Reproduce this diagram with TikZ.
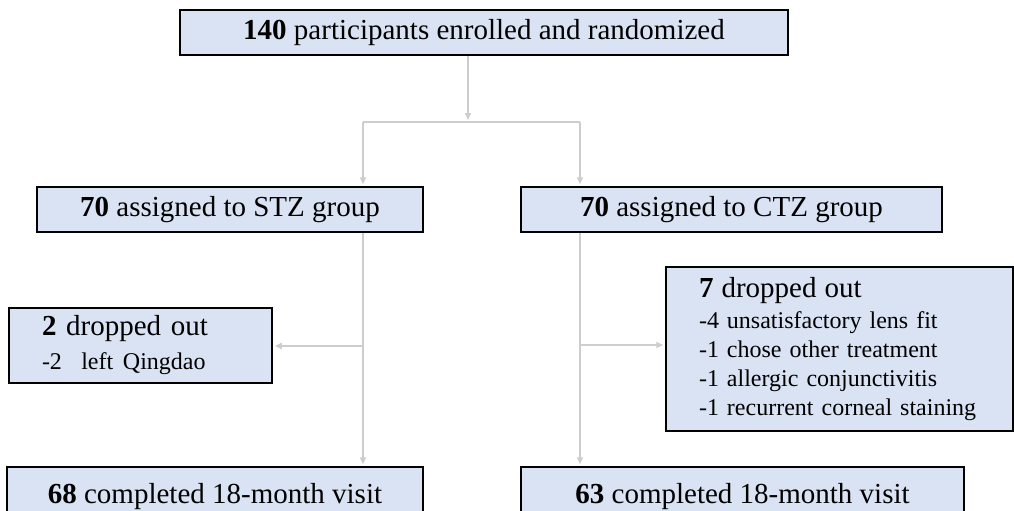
\documentclass[tikz,border=0pt]{standalone}
\usepackage{fontspec}
\setmainfont{Liberation Serif}
\usepackage{xcolor}
\usepackage{tikz}
\usetikzlibrary{positioning,arrows.meta}

\definecolor{boxblue}{HTML}{DAE3F3}
\definecolor{linegray}{HTML}{CDCDCD}

\tikzset{
  box/.style={draw=black, line width=1.5pt, fill=boxblue, inner sep=0pt,
    minimum height=45pt, font=\fontsize{29}{34}\selectfont},
  listbox/.style={box, align=left, inner xsep=33pt},
  link/.style={draw=linegray, line width=1.8pt},
  flow/.style={link, -{Triangle[length=7pt,width=6pt]}, shorten >=2pt},
}

\begin{document}
\begin{tikzpicture}[x=1pt,y=-1pt]
      \useasboundingbox (0,0) rectangle (1014,511);
      \node[box, minimum width=608pt] (enrol) at (484,32.5) {\textbf{140} participants enrolled and randomized};
      \node[box, minimum width=386pt] (stz) at (230,209.5) {\textbf{70} assigned to STZ group};
      \node[box, minimum width=421pt] (ctz) at (731.5,209.5) {\textbf{70} assigned to CTZ group};
      \node[listbox, text width=197pt, minimum height=75pt] (dropA) at (140.5,345.5)
        {\textbf{2} dropped out\\{\fontsize{24}{29}\selectfont -2~~left Qingdao}};
      \node[listbox, text width=281pt, minimum height=164pt, font=\fontsize{24}{29}\selectfont] (dropB) at (839.5,349)
        {{\fontsize{29}{34}\selectfont\textbf{7} dropped out}\\[2pt]
         -4 unsatisfactory lens fit\\
         -1 chose other treatment\\
         -1 allergic conjunctivitis\\
         -1 recurrent corneal staining};
      \node[box, minimum width=416pt, minimum height=59pt] (doneA) at (215,496.5) {\textbf{68} completed 18-month visit};
      \node[box, minimum width=443pt, minimum height=59pt] (doneB) at (742.5,496.5) {\textbf{63} completed 18-month visit};
      % randomisation fork
      \coordinate (fork) at (468,122);
      \coordinate (forkL) at (363,122);
      \coordinate (forkR) at (580,122);
      \draw[flow] (enrol.south -| fork) -- (fork);
      \draw[link] (forkL) -- (forkR);
      \draw[flow] (forkL) -- (forkL |- stz.north);
      \draw[flow] (forkR) -- (forkR |- ctz.north);
      % follow-up
      \coordinate (branchL) at (363,346);
      \coordinate (branchR) at (580,345);
      \draw[flow] (stz.south -| forkL) -- (forkL |- doneA.north);
      \draw[flow] (branchL) -- (branchL -| dropA.east);
      \draw[flow] (ctz.south -| forkR) -- (forkR |- doneB.north);
      \draw[flow] (branchR) -- (branchR -| dropB.west);
    \end{tikzpicture}
\end{document}
